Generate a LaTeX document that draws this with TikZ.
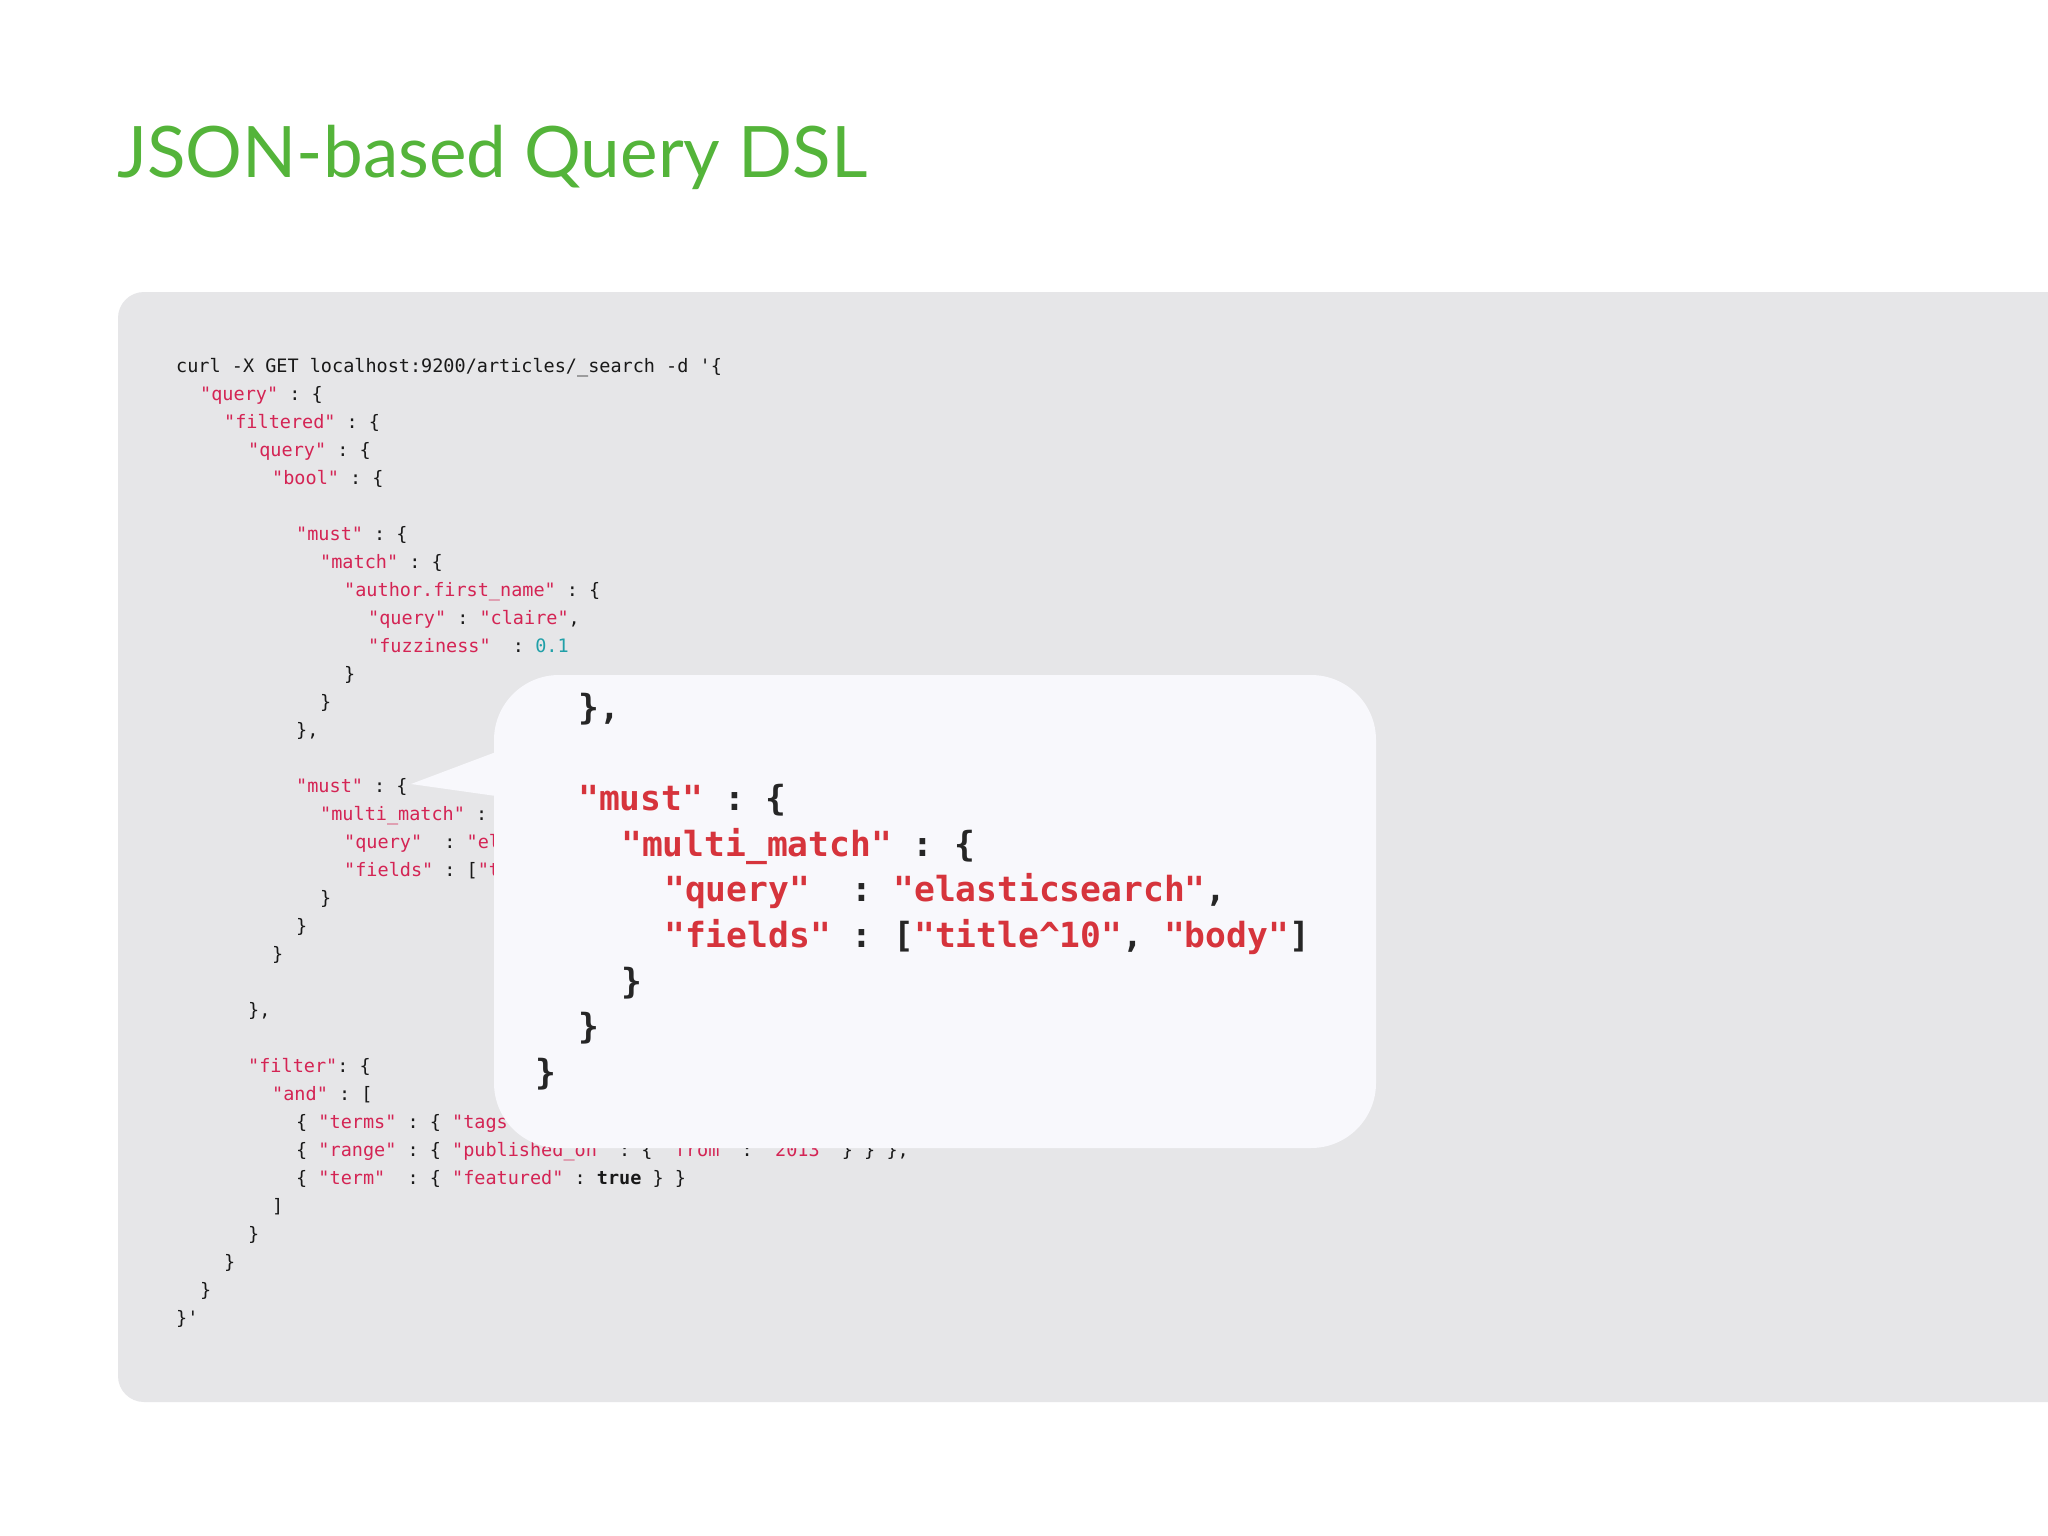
\documentclass[tikz,border=0pt]{standalone}
\usepackage{fontspec}
\setmonofont{DejaVu Sans Mono}
\newfontfamily\titlefont{Lato}
\definecolor{titlegreen}{RGB}{84,180,58}
\definecolor{boxgray}{RGB}{230,230,232}
\definecolor{callbg}{RGB}{248,248,252}
\definecolor{keyred}{RGB}{212,36,84}
\definecolor{bigred}{RGB}{214,52,60}
\definecolor{numcyan}{RGB}{32,160,168}
\newcommand{\kk}[1]{\textcolor{keyred}{#1}}
\newcommand{\bk}[1]{\textcolor{bigred}{#1}}
\newcommand{\nn}[1]{\textcolor{numcyan}{#1}}
\begin{document}
\begin{tikzpicture}[x=1pt,y=-1pt,
  code/.style={anchor=base west,inner sep=0pt,font=\fontsize{18.5}{20}\ttfamily,text=black!90},
  big/.style={anchor=base west,inner sep=0pt,font=\fontsize{34.6}{36}\ttfamily\bfseries,text=black!85}]
\useasboundingbox (0,0) rectangle (2048,1536);
\fill[white] (0,0) rectangle (2048,1536);
\node[anchor=base west,inner sep=0pt,font=\titlefont\fontsize{71}{80}\selectfont,text=titlegreen] (title) at (117,178) {JSON-based Query DSL};
\fill[boxgray,rounded corners=26pt] (118,292) rectangle (2090,1402);
\def\lx#1{176+24*#1}
\def\ly#1{372+28*#1}
\node[code] (l0) at ({\lx0},{\ly0}) {curl -X GET localhost:9200/articles/\_search -d '\{};
\node[code] (l1) at ({\lx1},{\ly1}) {\kk{"query"} : \{};
\node[code] (l2) at ({\lx2},{\ly2}) {\kk{"filtered"} : \{};
\node[code] (l3) at ({\lx3},{\ly3}) {\kk{"query"} : \{};
\node[code] (l4) at ({\lx4},{\ly4}) {\kk{"bool"} : \{};
\node[code] (l6) at ({\lx5},{\ly6}) {\kk{"must"} : \{};
\node[code] (l7) at ({\lx6},{\ly7}) {\kk{"match"} : \{};
\node[code] (l8) at ({\lx7},{\ly8}) {\kk{"author.first\_name"} : \{};
\node[code] (l9) at ({\lx8},{\ly9}) {\kk{"query"} : \kk{"claire"},};
\node[code] (l10) at ({\lx8},{\ly10}) {\kk{"fuzziness"}\ \ : \nn{0.1}};
\node[code] (l11) at ({\lx7},{\ly11}) {\}};
\node[code] (l12) at ({\lx6},{\ly12}) {\}};
\node[code] (l13) at ({\lx5},{\ly13}) {\},};
\node[code] (l15) at ({\lx5},{\ly15}) {\kk{"must"} : \{};
\node[code] (l16) at ({\lx6},{\ly16}) {\kk{"multi\_match"} : \{};
\node[code] (l17) at ({\lx7},{\ly17}) {\kk{"query"}\ \ : \kk{"elasticsearch"},};
\node[code] (l18) at ({\lx7},{\ly18}) {\kk{"fields"} : [\kk{"title\textasciicircum10"}, \kk{"body"}]};
\node[code] (l19) at ({\lx6},{\ly19}) {\}};
\node[code] (l20) at ({\lx5},{\ly20}) {\}};
\node[code] (l21) at ({\lx4},{\ly21}) {\}};
\node[code] (l23) at ({\lx3},{\ly23}) {\},};
\node[code] (l25) at ({\lx3},{\ly25}) {\kk{"filter"}: \{};
\node[code] (l26) at ({\lx4},{\ly26}) {\kk{"and"} : [};
\node[code] (l27) at ({\lx5},{\ly27}) {\{ \kk{"terms"} : \{ \kk{"tags"} : [\kk{"search"}] \} \},};
\node[code] (l28) at ({\lx5},{\ly28}) {\{ \kk{"range"} : \{ \kk{"published\_on"} : \{ \kk{"from"} : \kk{"2013"} \} \} \},};
\node[code] (l29) at ({\lx5},{\ly29}) {\{ \kk{"term"}\ \ : \{ \kk{"featured"} : \textbf{true} \} \}};
\node[code] (l30) at ({\lx4},{\ly30}) {]};
\node[code] (l31) at ({\lx3},{\ly31}) {\}};
\node[code] (l32) at ({\lx2},{\ly32}) {\}};
\node[code] (l33) at ({\lx1},{\ly33}) {\}};
\node[code] (l34) at ({\lx0},{\ly34}) {\}'};
% callout
\fill[callbg,rounded corners=65pt] (494,675) rectangle (1376,1148);
\fill[callbg] (411,784) -- (496,752) -- (496,796) -- cycle;
\def\bx#1{535+43*#1}
\def\by#1{719+45.7*#1}
\node[big] (b0) at ({\bx1},{\by0}) {\},};
\node[big] (b2) at ({\bx1},{\by2}) {\bk{"must"} : \{};
\node[big] (b3) at ({\bx2},{\by3}) {\bk{"multi\_match"} : \{};
\node[big] (b4) at ({\bx3},{\by4}) {\bk{"query"}\ \ : \bk{"elasticsearch"},};
\node[big] (b5) at ({\bx3},{\by5}) {\bk{"fields"} : [\bk{"title\textasciicircum10"}, \bk{"body"}]};
\node[big] (b6) at ({\bx2},{\by6}) {\}};
\node[big] (b7) at ({\bx1},{\by7}) {\}};
\node[big] (b8) at ({\bx0},{\by8}) {\}};
\end{tikzpicture}
\end{document}
